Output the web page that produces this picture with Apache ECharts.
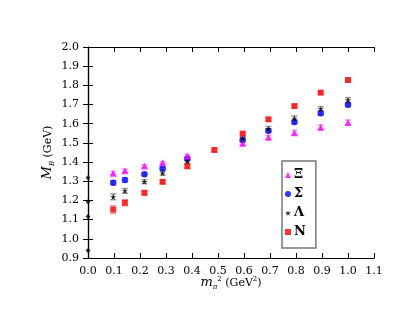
<!DOCTYPE html>
<html>
<head>
<meta charset="utf-8">
<script src="https://cdn.jsdelivr.net/npm/echarts@6/dist/echarts.min.js"></script>
<style>
  html, body { margin: 0; padding: 0; background: #fff; }
  #main { width: 415px; height: 321px; }
</style>
</head>
<body>
<div id="main"></div>
<script>
// pion mass squared (GeV^2)
var mpi2 = [0.097, 0.142, 0.217, 0.287, 0.382, 0.595, 0.694, 0.794, 0.895, 1.0];
var mpi2N = [0.097, 0.142, 0.217, 0.287, 0.382, 0.486, 0.595, 0.694, 0.794, 0.895, 1.0];

var massXi = [1.342, 1.355, 1.380, 1.397, 1.432, 1.498, 1.529, 1.553, 1.581, 1.607];
var errXi = [0.008, 0.008, 0.006, 0.006, 0.008, 0.010, 0.010, 0.012, 0.012, 0.012];
var massSigma = [1.292, 1.307, 1.336, 1.366, 1.418, 1.515, 1.564, 1.609, 1.654, 1.699];
var errSigma = [0.010, 0.010, 0.008, 0.008, 0.008, 0.010, 0.010, 0.010, 0.010, 0.010];
var massLambda = [1.219, 1.250, 1.298, 1.342, 1.404, 1.522, 1.574, 1.628, 1.677, 1.724];
var errLambda = [0.015, 0.012, 0.010, 0.010, 0.010, 0.010, 0.012, 0.012, 0.012, 0.012];
var massN = [1.153, 1.188, 1.240, 1.297, 1.378, 1.463, 1.548, 1.623, 1.692, 1.762, 1.828];
var errN = [0.020, 0.015, 0.010, 0.008, 0.010, 0.008, 0.008, 0.008, 0.008, 0.008, 0.008];

// physical masses at m_pi^2 = 0
var physMass = [1.318, 1.193, 1.116, 0.939];

var legendNames = ['Ξ', 'Σ', 'Λ', 'N'];

var starPath = 'path://M50,0 L61,35 L98,35 L68,57 L79,91 L50,70 L21,91 L32,57 L2,35 L39,35 Z';

function pts(xs, ys) {
  return xs.map(function (x, i) { return [x, ys[i]]; });
}
function errs(xs, ys, es) {
  return xs.map(function (x, i) { return [x, ys[i], es[i]]; });
}

function errorBars(color) {
  return function (params, api) {
    var x = api.value(0), y = api.value(1), e = api.value(2);
    var lo = api.coord([x, y - e]);
    var hi = api.coord([x, y + e]);
    var w = 3;
    var st = { stroke: color, lineWidth: 1.5 };
    return {
      type: 'group',
      children: [
        { type: 'line', shape: { x1: lo[0], y1: lo[1], x2: hi[0], y2: hi[1] }, style: st },
        { type: 'line', shape: { x1: lo[0] - w, y1: lo[1], x2: lo[0] + w, y2: lo[1] }, style: st },
        { type: 'line', shape: { x1: hi[0] - w, y1: hi[1], x2: hi[0] + w, y2: hi[1] }, style: st }
      ]
    };
  };
}

var serif = 'DejaVu Serif';
var chart = echarts.init(document.getElementById('main'));

var axisCommon = {
  type: 'value',
  axisLine: { show: true, lineStyle: { color: '#000', width: 1.2 } },
  axisTick: { show: true, inside: true, length: 5, lineStyle: { color: '#000' } },
  splitLine: { show: false }
};

chart.setOption({
  animation: false,
  grid: { left: 88, right: 41, top: 47, bottom: 63 },
  legend: {
    orient: 'vertical',
    left: 282,
    top: 161,
    padding: [7, 10, 9, 3],
    itemGap: 5,
    itemWidth: 6,
    itemHeight: 6,
    borderColor: '#777',
    borderWidth: 1.5,
    data: legendNames,
    textStyle: { fontFamily: serif, fontSize: 13, fontWeight: 'bold', color: '#000', lineHeight: 14, padding: [0, 0, 0, -2] }
  },
  xAxis: [
    Object.assign({}, axisCommon, {
      min: 0, max: 1.1, interval: 0.1,
      position: 'bottom',
      axisLabel: {
        margin: 8, color: '#000', fontFamily: serif, fontSize: 11,
        formatter: function (v) { return v.toFixed(1); }
      },
      name: '{it|m}{sub|π}{sup|2}{n| (GeV}{sup|2}{n|)}',
      nameLocation: 'middle',
      nameGap: 17,
      nameMoveOverlap: false,
      nameTextStyle: {
        rich: {
          it: { fontFamily: serif, fontStyle: 'italic', fontSize: 13, color: '#000' },
          sub: { fontFamily: serif, fontStyle: 'italic', fontSize: 7, color: '#000', padding: [9, 0, 0, 0] },
          sup: { fontFamily: serif, fontSize: 7, color: '#000', padding: [0, 0, 8, 0] },
          n: { fontFamily: serif, fontSize: 11, color: '#000' }
        }
      }
    }),
    Object.assign({}, axisCommon, {
      min: 0, max: 1.1, interval: 0.1,
      position: 'top',
      axisLabel: { show: false }
    })
  ],
  yAxis: [
    Object.assign({}, axisCommon, {
      min: 0.9, max: 2.0, interval: 0.1,
      position: 'left',
      axisLabel: {
        margin: 9, color: '#000', fontFamily: serif, fontSize: 11,
        formatter: function (v) { return v.toFixed(1); }
      },
      name: '{it|M}{sub|B}{n| (GeV)}',
      nameLocation: 'middle',
      nameRotate: 90,
      nameGap: 32,
      nameMoveOverlap: false,
      nameTextStyle: {
        rich: {
          it: { fontFamily: serif, fontStyle: 'italic', fontSize: 13, color: '#000' },
          sub: { fontFamily: serif, fontStyle: 'italic', fontSize: 7, color: '#000', padding: [9, 0, 0, 0] },
          n: { fontFamily: serif, fontSize: 11, color: '#000' }
        }
      }
    }),
    Object.assign({}, axisCommon, {
      min: 0.9, max: 2.0, interval: 0.1,
      position: 'right',
      axisLabel: { show: false }
    })
  ],
  series: [
    { type: 'custom', renderItem: errorBars('#f29a9a'), data: errs(mpi2N, massN, errN), z: 1, silent: true },
    { type: 'custom', renderItem: errorBars('#9a9aee'), data: errs(mpi2, massSigma, errSigma), z: 1, silent: true },
    { type: 'custom', renderItem: errorBars('#999999'), data: errs(mpi2, massLambda, errLambda), z: 1, silent: true },
    { type: 'custom', renderItem: errorBars('#ee99ee'), data: errs(mpi2, massXi, errXi), z: 1, silent: true },
    { name: 'N', type: 'scatter', symbol: 'rect', symbolSize: 6, itemStyle: { color: '#ff0000' }, data: pts(mpi2N, massN), z: 3 },
    { name: 'Σ', type: 'scatter', symbol: 'circle', symbolSize: 6.5, itemStyle: { color: '#0000ff' }, data: pts(mpi2, massSigma), z: 3 },
    { name: 'Λ', type: 'scatter', symbol: starPath, symbolSize: 6, itemStyle: { color: '#000' }, data: pts(mpi2, massLambda), z: 4 },
    { name: 'Ξ', type: 'scatter', symbol: 'triangle', symbolSize: 7, itemStyle: { color: '#ff00ff' }, data: pts(mpi2, massXi), z: 3 },
    {
      type: 'scatter', symbol: 'diamond', symbolSize: 5, itemStyle: { color: '#000' },
      data: physMass.map(function (m) { return [0, m]; }), z: 5, silent: true
    }
  ]
});
</script>
</body>
</html>
